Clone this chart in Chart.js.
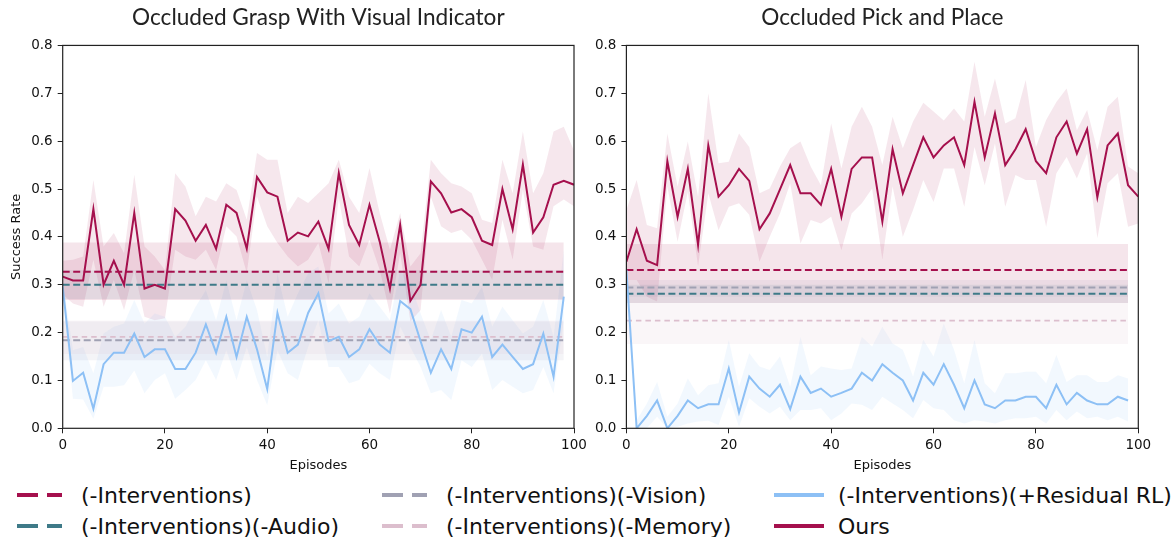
<!DOCTYPE html>
<html>
<head>
<meta charset="utf-8">
<script src="https://cdn.jsdelivr.net/npm/chart.js@4.4.0/dist/chart.umd.min.js"></script>
<style>
  body{margin:0;background:#fff;width:1172px;height:537px;overflow:hidden;position:relative;font-family:"DejaVu Sans",sans-serif;}
  canvas{position:absolute;top:0}
  #c1{left:0}
  #c2{left:586px}
  .lg{position:absolute;height:30px;display:flex;align-items:center;font-size:22px;color:#111;white-space:nowrap}
  .sw{position:absolute;height:4px}
</style>
</head>
<body>
<canvas id="c1" width="586" height="480"></canvas>
<canvas id="c2" width="586" height="480"></canvas>
<div id="legend"></div>
<script>
// episodes (x values)
const episodes = [0,2,4,6,8,10,12,14,16,18,20,22,24,26,28,30,32,34,36,38,40,42,44,46,48,50,
                  52,54,56,58,60,62,64,66,68,70,72,74,76,78,80,82,84,86,88,90,92,94,96,98,100];
const episodesShort = episodes.slice(0, 50);
const baseX = [0, 98];

// --- Occluded Grasp With Visual Indicator ---
const leftOurs   = [0.317,0.309,0.309,0.458,0.300,0.350,0.300,0.450,0.292,0.300,0.292,0.458,0.434,0.392,0.425,0.375,0.467,0.450,0.375,0.525,0.493,0.484,0.392,0.409,0.401,0.432,
                    0.375,0.533,0.425,0.383,0.467,0.390,0.292,0.425,0.266,0.300,0.516,0.491,0.451,0.458,0.441,0.392,0.383,0.500,0.416,0.551,0.409,0.441,0.509,0.517,0.509];
const leftOursHi = [0.350,0.352,0.359,0.519,0.380,0.408,0.366,0.530,0.380,0.359,0.331,0.533,0.505,0.443,0.484,0.474,0.512,0.498,0.436,0.575,0.561,0.561,0.450,0.484,0.471,0.491,
                    0.512,0.561,0.484,0.450,0.544,0.450,0.373,0.450,0.338,0.366,0.561,0.533,0.512,0.505,0.491,0.436,0.429,0.561,0.491,0.620,0.491,0.533,0.620,0.630,0.580];
const leftOursLo = [0.280,0.261,0.254,0.352,0.254,0.310,0.247,0.331,0.233,0.226,0.230,0.373,0.359,0.352,0.373,0.331,0.422,0.401,0.324,0.484,0.422,0.387,0.359,0.338,0.352,0.387,
                    0.303,0.481,0.359,0.338,0.394,0.331,0.240,0.366,0.223,0.247,0.484,0.422,0.408,0.415,0.394,0.352,0.310,0.436,0.352,0.498,0.380,0.373,0.464,0.478,0.464];
const leftRes    = [0.296,0.099,0.116,0.041,0.134,0.158,0.158,0.198,0.149,0.165,0.165,0.124,0.124,0.158,0.217,0.158,0.233,0.149,0.233,0.165,0.082,0.241,0.158,0.175,0.241,
                    0.282,0.182,0.191,0.149,0.165,0.207,0.175,0.158,0.266,0.249,0.182,0.116,0.165,0.124,0.207,0.200,0.233,0.149,0.175,0.149,0.124,0.134,0.198,0.108,0.275];
const leftResHi  = [0.310,0.163,0.170,0.115,0.198,0.212,0.219,0.268,0.219,0.240,0.233,0.191,0.212,0.254,0.289,0.226,0.310,0.226,0.310,0.247,0.149,0.324,0.233,0.282,0.324,
                    0.338,0.240,0.261,0.219,0.233,0.282,0.254,0.226,0.331,0.303,0.240,0.184,0.247,0.191,0.268,0.261,0.296,0.212,0.254,0.226,0.198,0.212,0.268,0.191,0.373];
const leftResLo  = [0.280,0.062,0.060,0.020,0.087,0.087,0.090,0.121,0.073,0.101,0.115,0.062,0.080,0.101,0.142,0.101,0.163,0.101,0.170,0.101,0.048,0.163,0.115,0.101,0.170,
                    0.226,0.128,0.128,0.094,0.101,0.135,0.115,0.101,0.212,0.170,0.128,0.073,0.080,0.059,0.142,0.128,0.156,0.080,0.101,0.087,0.073,0.080,0.128,0.073,0.226];
// baselines: -Interventions, -Audio, -Vision, -Memory
const leftBase   = [0.327, 0.300, 0.184, 0.191];
const leftBaseLo = [0.268, 0.270, 0.142, 0.155];
const leftBaseHi = [0.388, 0.330, 0.223, 0.225];

// --- Occluded Pick and Place ---
const rightOurs   = [0.348,0.416,0.350,0.341,0.558,0.442,0.542,0.383,0.591,0.484,0.508,0.542,0.517,0.416,0.449,0.499,0.550,0.491,0.491,0.467,0.542,0.442,0.542,0.566,0.566,0.432,
                     0.583,0.491,0.550,0.608,0.566,0.591,0.608,0.550,0.682,0.566,0.658,0.550,0.583,0.625,0.558,0.533,0.608,0.641,0.574,0.625,0.483,0.591,0.616,0.508,0.484];
const rightOursHi = [0.456,0.519,0.425,0.418,0.616,0.505,0.599,0.484,0.700,0.554,0.557,0.616,0.588,0.491,0.501,0.547,0.585,0.599,0.547,0.508,0.637,0.543,0.630,0.672,0.630,0.550,
                     0.651,0.585,0.641,0.680,0.662,0.643,0.668,0.641,0.766,0.651,0.731,0.637,0.648,0.728,0.588,0.644,0.682,0.710,0.623,0.665,0.581,0.672,0.693,0.547,0.533];
const rightOursLo = [0.310,0.310,0.275,0.265,0.505,0.390,0.494,0.338,0.491,0.414,0.463,0.470,0.446,0.348,0.400,0.449,0.512,0.386,0.435,0.428,0.442,0.372,0.449,0.470,0.501,0.352,
                     0.505,0.400,0.456,0.519,0.473,0.543,0.543,0.463,0.588,0.508,0.595,0.463,0.529,0.519,0.519,0.421,0.533,0.567,0.522,0.574,0.397,0.512,0.533,0.421,0.428];
const rightRes    = [0.331,0.000,0.026,0.058,0.000,0.026,0.058,0.042,0.050,0.050,0.125,0.033,0.108,0.083,0.066,0.091,0.040,0.108,0.074,0.083,0.066,0.074,0.083,0.116,0.100,
                     0.134,0.116,0.100,0.058,0.116,0.091,0.134,0.091,0.042,0.100,0.050,0.042,0.058,0.058,0.066,0.066,0.042,0.091,0.050,0.074,0.058,0.050,0.050,0.066,0.058];
const rightResHi  = [0.340,0.017,0.052,0.097,0.024,0.052,0.104,0.069,0.090,0.094,0.185,0.087,0.157,0.129,0.122,0.150,0.087,0.191,0.111,0.129,0.125,0.122,0.125,0.191,0.171,
                     0.212,0.177,0.164,0.108,0.185,0.150,0.219,0.164,0.094,0.185,0.094,0.073,0.115,0.115,0.118,0.118,0.094,0.153,0.097,0.111,0.111,0.097,0.097,0.111,0.104];
const rightResLo  = [0.320,0.000,0.000,0.024,0.000,0.003,0.010,0.014,0.016,0.007,0.066,0.003,0.063,0.045,0.031,0.045,0.017,0.038,0.038,0.042,0.017,0.031,0.052,0.049,0.038,
                     0.066,0.052,0.038,0.021,0.059,0.042,0.038,0.017,0.010,0.017,0.014,0.010,0.017,0.021,0.021,0.024,0.010,0.038,0.017,0.035,0.021,0.024,0.017,0.024,0.014];
const rightBase   = [0.331, 0.281, 0.294, 0.225];
const rightBaseLo = [0.262, 0.262, 0.275, 0.176];
const rightBaseHi = [0.385, 0.300, 0.310, 0.262];

const labels = ["(-Interventions)", "(-Interventions)(-Audio)", "(-Interventions)(-Vision)",
                "(-Interventions)(-Memory)", "(-Interventions)(+Residual RL)", "Ours"];
const colors = ["#a5104d", "#3e7a88", "#a0a1b3", "#dcbecd", "#8dc0f5", "#a5104d"];
const bandColors = ["rgba(165,16,77,0.11)", "rgba(62,122,136,0.10)", "rgba(150,150,175,0.10)",
                    "rgba(215,180,200,0.12)", "rgba(141,192,245,0.11)", "rgba(165,16,77,0.10)"];

function pts(xs, ys){ return xs.map((x, i) => ({x: x, y: ys[i]})); }

function band(xs, lo, hi, color){
  return [
    {data: pts(xs, lo), borderWidth: 0, pointRadius: 0, fill: false, order: 3},
    {data: pts(xs, hi), borderWidth: 0, pointRadius: 0, fill: '-1', backgroundColor: color, order: 3}
  ];
}

function buildDatasets(ours, oursLo, oursHi, res, resLo, resHi, base, baseLo, baseHi){
  let ds = [];
  for(let i = 0; i < 4; i++){
    ds = ds.concat(band(baseX, [baseLo[i], baseLo[i]], [baseHi[i], baseHi[i]], bandColors[i]));
  }
  ds = ds.concat(band(episodesShort, resLo, resHi, bandColors[4]));
  ds = ds.concat(band(episodes, oursLo, oursHi, bandColors[5]));
  for(let i = 0; i < 4; i++){
    ds.push({data: pts(baseX, [base[i], base[i]]), borderColor: colors[i], borderWidth: i === 3 ? 1.6 : 2,
             borderDash: i === 3 ? [5.5, 4] : [7, 3.5], pointRadius: 0, fill: false, order: 2});
  }
  ds.push({data: pts(episodesShort, res), borderColor: colors[4], borderWidth: 2, pointRadius: 0, fill: false, order: 1});
  ds.push({data: pts(episodes, ours), borderColor: colors[5], borderWidth: 2, pointRadius: 0, fill: false, order: 0});
  return ds;
}

const framePlugin = {
  id: 'frame',
  afterDraw(chart){
    const {ctx, chartArea: a} = chart;
    ctx.save();
    ctx.strokeStyle = '#222';
    ctx.lineWidth = 1.2;
    ctx.strokeRect(a.left, a.top, a.right - a.left, a.bottom - a.top);
    ctx.restore();
  }
};

function makeChart(id, title, datasets, yWidth, padRight, yTitle){
  const tickFont = {family: "DejaVu Sans", size: 13.5};
  return new Chart(document.getElementById(id), {
    type: 'line',
    data: {datasets: datasets},
    plugins: [framePlugin],
    options: {
      responsive: false,
      animation: false,
      layout: {padding: {left: 0, right: padRight, top: 0, bottom: 0}},
      plugins: {
        legend: {display: false},
        tooltip: {enabled: false},
        title: {display: true, text: title, fullSize: false, color: '#222',
                font: {family: "Lato", size: 22.6, weight: 'normal'}, padding: {top: 4.5, bottom: 13.8}}
      },
      scales: {
        x: {
          type: 'linear', min: 0, max: 100,
          afterFit(axis){ axis.height = 51.7; axis.paddingLeft = 0; axis.paddingRight = 0; },
          ticks: {stepSize: 20, color: '#111', font: tickFont, padding: 4, maxRotation: 0},
          grid: {drawOnChartArea: false, drawTicks: true, tickLength: 5, color: '#222'},
          border: {display: false},
          title: {display: true, text: 'Episodes', color: '#111', font: {family: "DejaVu Sans", size: 13},
                  padding: {top: 0, bottom: 7}}
        },
        y: {
          min: 0, max: 0.8,
          afterFit(axis){ axis.width = yWidth; },
          ticks: {stepSize: 0.1, color: '#111', font: tickFont, padding: 5,
                  callback: v => v.toFixed(1)},
          grid: {drawOnChartArea: false, drawTicks: true, tickLength: 5, color: '#222'},
          border: {display: false},
          title: {display: !!yTitle, text: yTitle || '', color: '#111', font: {family: "DejaVu Sans", size: 13},
                  padding: {top: 9, bottom: 0}}
        }
      }
    }
  });
}

makeChart('c1', 'Occluded Grasp With Visual Indicator',
  buildDatasets(leftOurs, leftOursLo, leftOursHi, leftRes, leftResLo, leftResHi, leftBase, leftBaseLo, leftBaseHi),
  62.7, 12, 'Success Rate');
makeChart('c2', 'Occluded Pick and Place',
  buildDatasets(rightOurs, rightOursLo, rightOursHi, rightRes, rightResLo, rightResHi, rightBase, rightBaseLo, rightBaseHi),
  40.4, 33.7, null);

// legend (shared, below both panels)
const legendOrder = [0, 2, 4, 1, 3, 5];
const colX = [17, 382, 774];
const rowY = [480, 511];
const legendEl = document.getElementById('legend');
legendOrder.forEach((idx, k) => {
  const col = k % 3, row = Math.floor(k / 3);
  const x = colX[col], y = rowY[row];
  const dashed = idx < 4;
  if(dashed){
    [[0, 21], [30, 15]].forEach(([off, w]) => {
      const s = document.createElement('div');
      s.className = 'sw';
      s.style.cssText = `left:${x + off}px;top:${y + 13}px;width:${w}px;background:${colors[idx]}`;
      legendEl.appendChild(s);
    });
  } else {
    const s = document.createElement('div');
    s.className = 'sw';
    s.style.cssText = `left:${x}px;top:${y + 13}px;width:50px;background:${colors[idx]}`;
    legendEl.appendChild(s);
  }
  const t = document.createElement('div');
  t.className = 'lg';
  t.style.left = (x + 64) + 'px';
  t.style.top = y + 'px';
  t.textContent = labels[idx];
  legendEl.appendChild(t);
});
</script>
</body>
</html>
